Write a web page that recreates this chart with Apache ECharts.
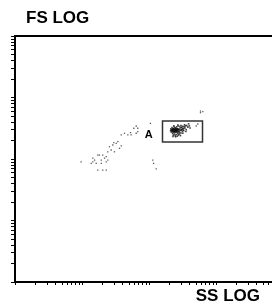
<!DOCTYPE html>
<html>
<head>
<meta charset="utf-8">
<script src="https://cdn.jsdelivr.net/npm/echarts@6/dist/echarts.min.js"></script>
<style>
  html, body { margin: 0; padding: 0; background: #fff; }
  #chart { width: 272px; height: 305px; }
</style>
</head>
<body>
<div id="chart"></div>
<script>
// scattered events (SS, FS) outside the gate
var sparsePoints = [
  [587, 603], [587, 566], [635, 590],
  [105, 380], [535, 371], [506, 344],
  [64.4, 344], [68, 316], [59.3, 316],
  [68, 278], [64.4, 262], [52.9, 268], [54.2, 246],
  [43.1, 262], [48.3, 246], [38.5, 246],
  [34.2, 191], [32.4, 180], [29.8, 184], [28.8, 169],
  [38.5, 163], [36.3, 149],
  [25.7, 158], [27.3, 140], [30.5, 131], [24.3, 131],
  [17.2, 116], [18.2, 116], [20.4, 116], [23, 109], [21.7, 103],
  [14.5, 103], [15.4, 96], [14.5, 90], [13.7, 85], [16.3, 85],
  [19.4, 96], [19.4, 85], [23, 90], [24.3, 96],
  [9.7, 90],
  [17.2, 66], [20.4, 66], [23, 66],
  [114, 96], [117, 85], [128, 69]
];

// dense population inside gate A
var gatedPoints = [
  [222, 300], [228, 296], [234, 300], [240, 296], [246, 300], [252, 296], [258, 300], [264, 296], [270, 300],
  [222, 286], [228, 290], [234, 284], [240, 290], [246, 284], [252, 290], [258, 284], [264, 290], [276, 290],
  [226, 310], [232, 314], [240, 308], [248, 314], [256, 308], [264, 312], [272, 306], [282, 304],
  [230, 276], [238, 272], [246, 278], [254, 272], [262, 278], [270, 274], [280, 280],
  [218, 293], [224, 280], [236, 292], [250, 280], [262, 304], [244, 292], [230, 304],
  [290, 320], [300, 330], [310, 325], [320, 340], [335, 335], [350, 345], [365, 350],
  [300, 300], [315, 310], [330, 315], [345, 320], [290, 290], [305, 295], [320, 300],
  [285, 270], [300, 265], [315, 280], [330, 290], [240, 255], [255, 250], [270, 258],
  [285, 255], [245, 240], [265, 235], [225, 262], [215, 275], [215, 300], [220, 325],
  [240, 330], [260, 335], [280, 340], [250, 320], [300, 350], [340, 360], [380, 330],
  [400, 345], [360, 300], [230, 245], [250, 230], [275, 245],
  [210, 288], [212, 310], [228, 232], [295, 240], [320, 262], [355, 280], [390, 372],
  [410, 320], [270, 355], [235, 345]
];

// gate rectangle corners (SS, FS)
var gateName = 'A';
var gateFrom = [159, 415];
var gateTo = [629, 189];

// log ticks: 1..9, 10..90, ... 10000
var tickValues = [
  1, 2, 3, 4, 5, 6, 7, 8, 9,
  10, 20, 30, 40, 50, 60, 70, 80, 90,
  100, 200, 300, 400, 500, 600, 700, 800, 900,
  1000, 2000, 3000, 4000, 5000, 6000, 7000, 8000, 9000,
  10000
];

var xTitle = 'SS LOG';
var yTitle = 'FS LOG';

var font = '"Liberation Sans", Arial, sans-serif';
var tickPos = tickValues.map(function (v) { return Math.log10(v); });

var chart = echarts.init(document.getElementById('chart'), null, { renderer: 'canvas' });

var option = {
  animation: false,
  title: [
    {
      text: yTitle,
      left: 26,
      top: 10,
      padding: 0,
      textStyle: { fontFamily: font, fontSize: 17, fontWeight: 'bold', color: '#000' }
    },
    {
      text: xTitle,
      right: 12,
      top: 288,
      padding: 0,
      textStyle: { fontFamily: font, fontSize: 17, fontWeight: 'bold', color: '#000' }
    }
  ],
  grid: {
    left: 15,
    top: 36,
    bottom: 23,
    right: -11,
    outerBoundsMode: 'none',
    containLabel: false,
    show: true,
    borderColor: '#000',
    borderWidth: 2,
    backgroundColor: '#fff'
  },
  xAxis: [
    {
      type: 'log',
      logBase: 10,
      min: 1,
      max: 10000,
      show: false
    },
    {
      type: 'value',
      min: 0,
      max: 4,
      position: 'bottom',
      axisLine: { show: true, lineStyle: { color: '#000', width: 2 } },
      axisTick: {
        show: true,
        customValues: tickPos,
        length: 3,
        lineStyle: { color: '#000', width: 1 }
      },
      axisLabel: { show: false },
      splitLine: { show: false }
    }
  ],
  yAxis: [
    {
      type: 'log',
      logBase: 10,
      min: 1,
      max: 10000,
      show: false
    },
    {
      type: 'value',
      min: 0,
      max: 4,
      position: 'left',
      axisLine: { show: true, lineStyle: { color: '#000', width: 2 } },
      axisTick: {
        show: true,
        customValues: tickPos,
        length: 4,
        lineStyle: { color: '#000', width: 1 }
      },
      axisLabel: { show: false },
      splitLine: { show: false }
    }
  ],
  series: [
    {
      type: 'scatter',
      xAxisIndex: 0,
      yAxisIndex: 0,
      symbol: 'rect',
      symbolSize: 1.3,
      silent: true,
      itemStyle: { color: '#333' },
      data: sparsePoints
    },
    {
      type: 'scatter',
      xAxisIndex: 0,
      yAxisIndex: 0,
      symbol: 'rect',
      symbolSize: 1.6,
      silent: true,
      itemStyle: { color: '#111' },
      data: gatedPoints,
      markArea: {
        silent: true,
        itemStyle: { color: 'rgba(0,0,0,0)', borderColor: '#333', borderWidth: 1.5 },
        label: {
          show: true,
          position: 'left',
          distance: 9,
          offset: [0, 3],
          color: '#000',
          fontFamily: font,
          fontSize: 11,
          fontWeight: 'bold'
        },
        data: [[
          { name: gateName, coord: gateFrom },
          { coord: gateTo }
        ]]
      }
    }
  ]
};

chart.setOption(option);
</script>
</body>
</html>
